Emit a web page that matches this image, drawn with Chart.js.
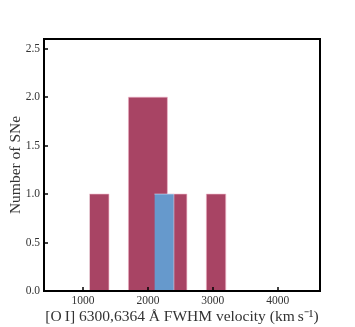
<!DOCTYPE html>
<html><head><meta charset="utf-8">
<script src="https://cdn.jsdelivr.net/npm/chart.js@4/dist/chart.umd.min.js"></script>
<style>html,body{margin:0;padding:0;background:#fff}#w{width:355px;height:327px}</style>
</head><body><div id="w"><canvas id="c"></canvas></div>
<script>
// Histogram bin edges and counts
const redEdges = [1100, 1400, 1700, 2000, 2300, 2600, 2900, 3200];
const redCounts = [1, 0, 2, 2, 1, 0, 1];
const blueEdges = [2100, 2400];
const blueCounts = [1];
const xTicks = [1000, 2000, 3000, 4000];
const yTicks = [0, 0.5, 1.0, 1.5, 2.0, 2.5];

const toSteps = (edges, counts) => edges.map((e, i) => ({x: e, y: i < counts.length ? counts[i] : 0}));

const frame = {
  id: 'frame',
  afterDraw(chart) {
    const {ctx, chartArea: a, scales} = chart;
    ctx.save();
    ctx.strokeStyle = '#000';
    ctx.lineWidth = 1.5;
    xTicks.forEach(v => {
      const px = Math.round(scales.x.getPixelForValue(v));
      ctx.beginPath(); ctx.moveTo(px, a.bottom); ctx.lineTo(px, a.bottom - 4); ctx.stroke();
    });
    yTicks.forEach(v => {
      const py = Math.round(scales.y.getPixelForValue(v));
      ctx.beginPath(); ctx.moveTo(a.left, py); ctx.lineTo(a.left + 4, py); ctx.stroke();
    });
    ctx.lineWidth = 2;
    ctx.strokeRect(a.left, a.top, a.right - a.left, a.bottom - a.top);
    ctx.restore();
  }
};

const font = 'Liberation Serif';
new Chart(document.getElementById('c'), {
  type: 'line',
  data: {
    datasets: [
      {data: toSteps(blueEdges, blueCounts), stepped: 'before', fill: 'origin',
       backgroundColor: 'rgb(102,153,204)', borderColor: 'rgba(210,225,245,0.6)', borderWidth: 1, pointRadius: 0},
      {data: toSteps(redEdges, redCounts), stepped: 'before', fill: 'origin',
       backgroundColor: 'rgb(168,68,100)', borderColor: 'rgba(240,180,200,0.6)', borderWidth: 1, pointRadius: 0}
    ]
  },
  options: {
    responsive: true, maintainAspectRatio: false, animation: false,
    layout: {padding: {left: 0, right: 35, top: 39, bottom: 0}},
    plugins: {legend: {display: false}, tooltip: {enabled: false}},
    scales: {
      x: {type: 'linear', min: 400, max: 4650,
        grid: {display: false, drawTicks: false}, border: {display: false},
        afterBuildTicks: s => { s.ticks = xTicks.map(v => ({value: v})); },
        afterFit: s => { s.height = 36; },
        ticks: {padding: 3, color: '#333', font: {family: font, size: 11.5}, maxRotation: 0, callback: v => String(v)},
        title: {display: true, text: '[O\u2009I] 6300,6364 \u00C5 FWHM velocity (km\u2009s\u207B\u00B9)', color: '#333',
          font: {family: font, size: 15.5}, padding: {top: 0, bottom: 1}}
      },
      y: {type: 'linear', min: 0, max: 2.6,
        grid: {display: false, drawTicks: false}, border: {display: false},
        afterBuildTicks: s => { s.ticks = yTicks.map(v => ({value: v})); },
        afterFit: s => { s.width = 44; },
        ticks: {padding: 4, color: '#333', font: {family: font, size: 11.5}, callback: v => Number(v).toFixed(1)},
        title: {display: true, text: 'Number of SNe', color: '#333', font: {family: font, size: 15.5}, padding: {top: 7, bottom: 0}}
      }
    }
  },
  plugins: [frame]
});
</script></body></html>
